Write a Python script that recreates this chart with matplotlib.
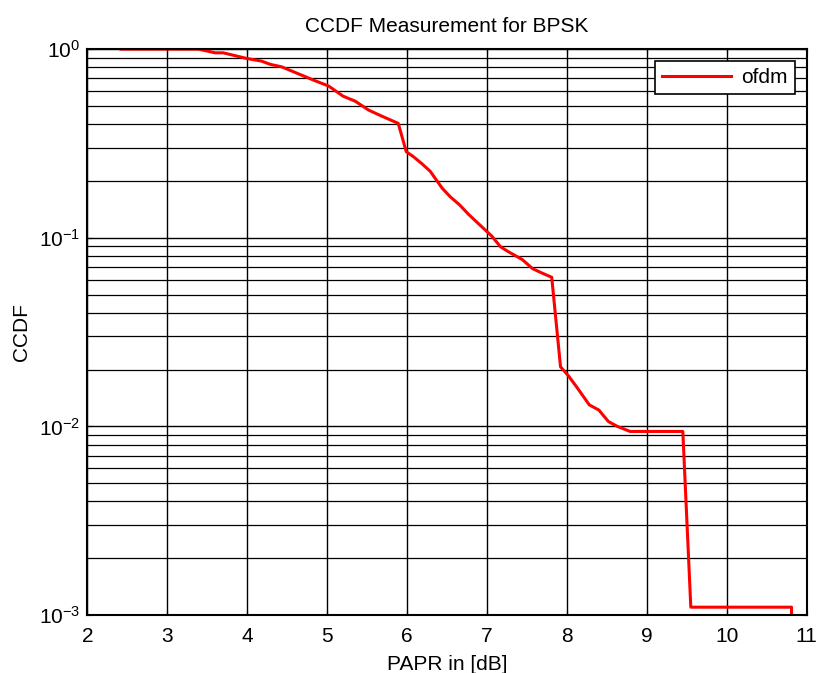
import numpy as np
import matplotlib
matplotlib.use("Agg")
import matplotlib.pyplot as plt
from matplotlib.ticker import LogLocator, NullFormatter, FuncFormatter

plt.rcParams['font.family'] = ['Liberation Sans', 'DejaVu Sans']
plt.rcParams['mathtext.default'] = 'regular'


# --- CCDF curve ---

papr_db = [2.42, 3.39, 3.60, 3.70, 3.99, 4.18, 4.29, 4.43, 4.83, 5.02,
           5.20, 5.35, 5.52, 5.68, 5.89, 5.99, 6.08, 6.19, 6.29, 6.44,
           6.54, 6.66, 6.77, 6.91, 7.06, 7.17, 7.27, 7.44, 7.57, 7.67,
           7.81, 7.92, 8.02, 8.13, 8.28, 8.40, 8.52, 8.63, 8.79, 9.45,
           9.55, 10.81, 10.81]
ccdf = [1.0, 1.0, 0.956, 0.956, 0.893, 0.864, 0.83, 0.806, 0.685, 0.637,
        0.563, 0.530, 0.475, 0.442, 0.404, 0.286, 0.269, 0.246, 0.225, 0.183,
        0.165, 0.149, 0.133, 0.117, 0.102, 0.0895, 0.0842, 0.0767, 0.0686, 0.0655,
        0.0617, 0.0207, 0.0185, 0.0160, 0.0130, 0.0122, 0.0106, 0.0100, 0.0094, 0.0094,
        0.0011, 0.0011, 1e-6]

x_ticks = [2, 3, 4, 5, 6, 7, 8, 9, 10, 11]


def pow_label(v, pos):
    e = int(round(np.log10(v)))
    return r'$10^{%d}$' % e


# --- Figure ---

fig = plt.figure(figsize=(8.19, 6.73), dpi=100)
ax = fig.add_axes([0.1066, 0.0862, 0.8784, 0.8408])

ax.semilogy(papr_db, ccdf, color='red', lw=2.2, label='ofdm')

ax.set_xlim(2, 11)
ax.set_ylim(1e-3, 1)
ax.set_xticks(x_ticks)
ax.yaxis.set_major_locator(LogLocator(base=10, numticks=10))
ax.yaxis.set_major_formatter(FuncFormatter(pow_label))
ax.yaxis.set_minor_locator(LogLocator(base=10, subs=np.arange(2, 10), numticks=20))
ax.yaxis.set_minor_formatter(NullFormatter())

ax.grid(True, which='major', color='black', ls='-', lw=1.0)
ax.grid(True, which='minor', axis='y', color='black', ls='-', lw=0.9)

ax.tick_params(which='both', direction='in', top=True, right=True,
               labelsize=15, colors='black')
ax.tick_params(axis='x', pad=9)
ax.tick_params(axis='y', pad=5)
ax.tick_params(which='minor', length=3)
for s in ax.spines.values():
    s.set_linewidth(1.5)

ax.set_title('CCDF Measurement for BPSK', fontsize=15, pad=12)
ax.set_xlabel('PAPR in [dB]', fontsize=15, labelpad=6)
ax.set_ylabel('CCDF', fontsize=15, labelpad=6)

leg = ax.legend(loc='upper right', fontsize=15, fancybox=False,
                framealpha=1, edgecolor='black', handlelength=3.3,
                handletextpad=0.5, borderaxespad=0.55, borderpad=0.35)
leg.get_frame().set_linewidth(1.2)

fig.savefig('out.png', dpi=100)
